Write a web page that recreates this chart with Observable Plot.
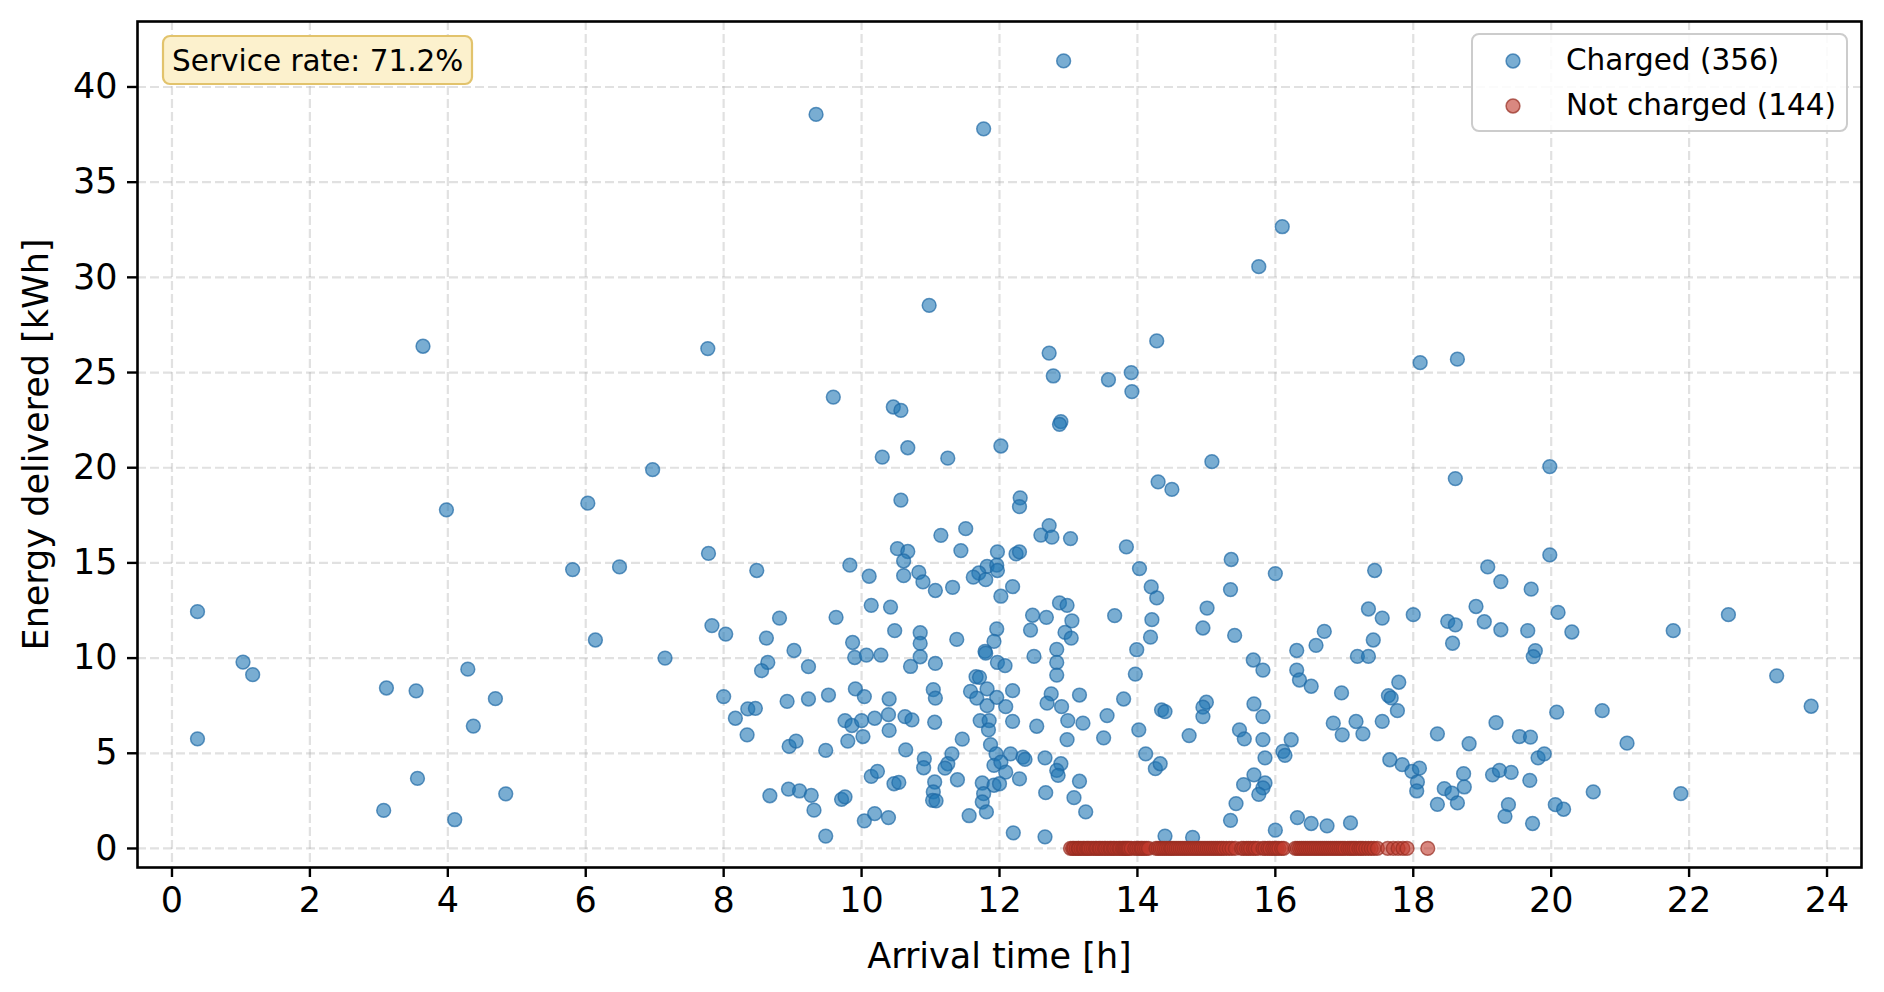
<!DOCTYPE html>
<html>
<head>
<meta charset="utf-8">
<script src="https://cdn.jsdelivr.net/npm/d3@7"></script>
<script src="https://cdn.jsdelivr.net/npm/@observablehq/plot@0.6"></script>
<style>
  html, body { margin: 0; padding: 0; background: #ffffff; overflow: hidden; }
  #chart svg { display: block; }
</style>
</head>
<body>
<div id="chart"></div>
<script>
// ---------------- DATA ----------------
const xTicks = [0, 2, 4, 6, 8, 10, 12, 14, 16, 18, 20, 22, 24];
const yTicks = [0, 5, 10, 15, 20, 25, 30, 35, 40];

const seriesNames = ["Charged (356)", "Not charged (144)"];
const annotationText = "Service rate: 71.2%";
const xLabel = "Arrival time [h]";
const yLabel = "Energy delivered [kWh]";

// Charged sessions: arrival time [h]
const chargedArrival = [
  0.37,0.37,1.03,1.17,3.07,3.11,3.54,3.56,3.64,3.98,4.10,4.29,4.37,4.69,4.84,5.81,6.03,6.14,6.49,6.97,7.15,7.77,7.78,7.83,8.03,
  12.93,9.34,11.77,16.10,15.76,10.98,14.28,12.72,12.78,13.58,13.91,13.92,9.59,10.46,10.57,12.89,12.87,18.10,18.64,
  10.30,10.67,11.25,10.57,11.15,11.51,11.44,10.52,10.67,10.61,9.83,10.11,10.61,10.83,10.89,11.07,11.32,8.48,10.14,10.42,8.81,9.63,8.62,10.48,10.85,10.85,11.38,9.87,9.02,
  8.64,8.55,9.23,9.90,10.07,10.28,10.85,10.71,11.07,8.00, 8.17,8.35,8.46,8.34,8.92,9.23,9.52,8.95,9.05,9.48,
  9.91,10.04,10.40,9.76,9.86,10.00,10.19,10.39,10.40,9.80, 10.02,10.63,10.73,11.04,11.07,11.06,10.64,11.58,11.46,10.91,
  10.90,11.31,11.25,11.21,11.39,11.06,11.04,11.03,11.08,11.56, 10.14,10.23,10.47,10.54,10.04,10.19,10.39,8.67,8.94,9.10,
  9.27,9.31,9.71,9.76,9.48,
  12.02,14.30,14.50,12.30,12.29,12.72,12.60,12.76,13.03,13.84, 11.97,12.24,12.29,14.03,11.82,11.70,11.62,11.80,11.96,11.97,
  12.19,12.02,14.20,14.28,12.87,12.98,12.48,12.68,13.05,13.67, 14.21,12.45,11.96,12.95,13.04,11.92,14.19,13.99,12.83,11.79,
  11.80,12.50,
  15.08,15.36,16.00,17.44,15.35,15.01,14.95,15.41,17.35,17.55,18.00,16.71,16.59,16.31,17.42,17.19,17.35,
  11.97,12.08,12.83,12.83,13.97,11.66,11.71,11.82,11.67,11.96, 11.82,12.19,12.09,12.75,12.69,12.90,13.16,13.80,13.56,12.99,
  13.21,12.54,12.19,11.72,11.85,11.84,12.98,13.51,14.02,14.35, 14.40,14.75,11.87,11.95,12.16,11.92,12.02,12.09,11.75,11.92,
  12.00,12.29,11.77,11.75,11.81,12.34,12.37,12.66,12.89,12.83, 12.85,13.16,12.67,13.08,13.25,12.20,12.66,14.12,14.26,14.33,
  14.40,14.80,
  15.68,15.82,16.31,16.35,16.52,16.96,17.79,17.64,17.68,17.77, 17.55,16.84,16.97,17.17,17.27,15.00,14.95,14.95,15.69,15.82,
  15.48,15.55,15.82,15.85,16.23,16.11,16.14,15.69,15.54,15.85, 15.82,15.76,15.43,15.35,16.00,16.32,16.52,16.75,17.09,17.66,
  17.84,17.98,18.09,18.06,18.05,
  18.61,19.98,19.98,19.08,19.27,19.71,18.91,18.50,18.61,19.03, 19.27,19.66,20.10,20.30,21.77,22.57,18.57,19.77,19.74,
  23.27,23.77,20.08,20.74,21.10,19.20,18.35,18.81,19.54,19.70, 19.81,19.90,18.73,18.74,18.45,18.56,18.64,18.35,19.15,19.25,
  19.42,19.69,19.38,19.33,19.73,20.06,20.18,20.61,21.88
];

// Charged sessions: energy delivered [kWh]
const chargedEnergy = [
  12.44,5.76,9.79,9.13,2.0,8.43,8.28,3.68,26.38,17.79,1.51,9.42,6.43,7.87,2.87,14.65,18.14,10.95,14.79,19.9,10.0,26.26,15.5,11.71,11.26,
  41.37,38.56,37.8,32.66,30.56,28.53,26.66,26.02,24.82,24.62,25.0,24.0,23.71,23.19,23.01,22.42,22.28,25.52,25.7,
  20.56,21.05,20.5,18.3,16.45,16.8,15.65,15.75,15.6,15.1,14.88,14.3,14.33,14.5,14.0,13.55,13.72,14.6,12.77,12.68,12.1,12.14,11.05,11.44,11.33,10.77,10.98,10.82,10.4,
  9.77,9.34,9.55,10.03,10.16,10.16,10.07,9.56,9.72,7.98, 6.84,7.33,7.36,5.97,7.73,7.85,8.06,5.36,5.64,5.15,
  8.38,7.98,7.85,6.72,6.46,6.72,6.84,7.03,6.2,5.64, 5.88,6.93,6.75,8.34,7.9,6.63,5.18,8.25,5.74,4.71,
  4.24,4.97,4.45,4.22,3.61,3.49,2.97,2.53,2.5,1.72, 3.79,4.05,3.4,3.47,1.45,1.83,1.62,2.77,3.12,3.02,
  2.79,2.01,2.58,2.71,0.65,
  21.14,19.26,18.86,18.42,17.96,16.96,16.46,16.35,16.28,15.84, 15.58,15.47,15.58,14.7,14.82,14.47,14.25,14.12,14.88,14.6,
  13.75,13.25,13.74,13.16,12.9,12.77,12.25,12.14,11.96,12.23, 12.02,11.47,11.53,11.35,11.05,10.88,11.1,10.44,10.46,10.35,
  10.26,10.09,
  20.32,15.18,14.44,14.6,13.6,12.63,11.58,11.19,12.58,12.1,12.28,11.4,10.67,10.4,10.95,10.09,10.09,
  9.77,9.6,9.77,9.11,9.16,9.02,8.99,8.38,7.9,7.94, 7.5,8.29,7.45,8.12,7.63,7.45,8.06,7.85,6.98,6.72,
  6.58,6.42,6.68,6.72,6.72,6.23,5.72,5.81,6.23,7.28, 7.19,5.93,5.45,4.97,4.97,4.36,4.54,4.01,3.44,3.32,
  3.4,3.66,2.88,2.44,1.92,4.8,4.68,4.76,4.45,4.1, 3.84,3.53,2.93,2.67,1.92,0.82,0.61,4.97,4.19,4.45,
  0.65,0.58,
  9.9,9.37,9.37,8.85,8.52,8.17,8.73,8.03,7.91,7.24, 6.68,6.58,5.97,6.67,6.02,7.68,7.42,6.93,7.59,6.93,
  6.23,5.76,5.72,4.76,5.71,5.1,4.89,3.87,3.35,3.44, 3.18,2.84,2.36,1.48,0.96,1.62,1.31,1.19,1.34,4.66,
  4.4,4.05,4.22,3.49,3.02,
  19.43,20.06,15.42,14.79,14.02,13.62,12.71,11.93,11.75,11.91, 11.49,11.44,12.4,11.37,11.44,12.28,10.78,10.39,10.08,
  9.07,7.47,7.16,7.24,5.53,6.61,6.02,5.5,5.88,5.85, 4.76,4.97,3.93,3.23,3.14,2.91,2.39,2.32,3.87,4.1,
  4.0,3.58,2.3,1.69,1.31,2.3,2.06,2.97,2.88
];

// Not-charged sessions: arrival time [h]
const notChargedArrival = [
  13.03,13.06,13.08,13.11,13.14,13.15,13.18,13.21,13.23,13.26,13.28,13.30,13.33,13.36,13.39,13.41,13.44,13.46,
  13.49,13.52,13.54,13.57,13.60,13.62,13.65,13.67,13.70,13.73,13.75,13.78,13.80,13.82,13.84,13.86,13.88,13.91,
  13.96,13.99,14.02,14.05,14.07,14.10,14.13,14.16,
  14.27,14.30,14.33,14.36,14.39,14.42,14.45,14.48,14.50,14.53,14.56,14.59,14.62,14.65,14.68,14.71,14.74,14.77,14.80,
  14.83,14.86,14.89,14.92,14.95,14.98,15.01,15.04,15.07,15.10,15.13,15.16,15.19,15.22,15.25,15.29,15.33,15.37,15.42,
  15.51,15.54,15.58,15.61,15.64,15.68,15.71,15.75,
  15.82,15.85,15.89,15.92,15.96,15.99,16.02,16.05,16.09,16.12,
  16.29,16.32,16.35,16.38,16.41,16.44,16.47,16.50,16.53,16.56,16.59,16.62,16.65,16.68,16.71,16.74,16.77,16.80,16.83,
  16.86,16.89,16.92,16.95,16.98,17.01,17.05,17.08,17.11,17.14,17.17,17.21,17.24,17.27,17.31,17.35,17.39,17.43,17.48,
  17.63,17.71,17.78,17.85,17.91,
  18.21
];

// Not-charged sessions: energy delivered [kWh]
const notChargedEnergy = [
  0,0,0,0,0,0,0,0,0,0,0,0,0,0,0,0,0,0,0,0,0,0,0,0,
  0,0,0,0,0,0,0,0,0,0,0,0,0,0,0,0,0,0,0,0,0,0,0,0,
  0,0,0,0,0,0,0,0,0,0,0,0,0,0,0,0,0,0,0,0,0,0,0,0,
  0,0,0,0,0,0,0,0,0,0,0,0,0,0,0,0,0,0,0,0,0,0,0,0,
  0,0,0,0,0,0,0,0,0,0,0,0,0,0,0,0,0,0,0,0,0,0,0,0,
  0,0,0,0,0,0,0,0,0,0,0,0,0,0,0,0,0,0,0,0,0,0,0,0
];

const seriesColors = ["#1f77b4", "#c0392b"];
const seriesEdges = ["#1f6aa5", "#962d22"];

// ---------------- CHART ----------------
const charged = chargedArrival.map((t, i) => ({arrival: t, energy: chargedEnergy[i]}));
const notCharged = notChargedArrival.map((t, i) => ({arrival: t, energy: notChargedEnergy[i]}));

const W = 1884, H = 992;
const mL = 137, mR = 23, mT = 21, mB = 125;
const dotR = 6.9;
const gridStyle = {stroke: "#b0b0b0", strokeOpacity: 0.38, strokeWidth: 2.2, strokeDasharray: "9,4"};

const svg = Plot.plot({
  width: W,
  height: H,
  marginLeft: mL, marginRight: mR, marginTop: mT, marginBottom: mB,
  style: {fontFamily: "'DejaVu Sans', sans-serif", fontSize: "35px", background: "#ffffff", color: "#000000"},
  x: {domain: [-0.5, 24.5], label: null},
  y: {domain: [-1, 43.44], label: null},
  marks: [
    Plot.gridX(xTicks, gridStyle),
    Plot.gridY(yTicks, gridStyle),
    Plot.dot(charged, {x: "arrival", y: "energy", r: dotR, fill: seriesColors[0], fillOpacity: 0.6,
      stroke: seriesEdges[0], strokeOpacity: 0.7, strokeWidth: 1.5}),
    Plot.dot(notCharged, {x: "arrival", y: "energy", r: dotR, fill: seriesColors[1], fillOpacity: 0.6,
      stroke: seriesEdges[1], strokeOpacity: 0.7, strokeWidth: 1.5}),
    Plot.frame({stroke: "#000000", strokeWidth: 2.6}),
    Plot.axisX(xTicks, {tickSize: 10, tickPadding: 10, strokeWidth: 2.4, fontSize: 35, label: null}),
    Plot.axisY(yTicks, {tickSize: 10, tickPadding: 10, strokeWidth: 2.4, fontSize: 35, label: null}),
    Plot.text([xLabel], {text: d => d, frameAnchor: "bottom", dy: 100, lineAnchor: "bottom", textAnchor: "middle", fontSize: 35, fill: "#000000"}),
    Plot.text([yLabel], {text: d => d, frameAnchor: "left", dx: -90, rotate: -90, lineAnchor: "bottom", textAnchor: "middle", fontSize: 35, fill: "#000000"})
  ]
});

// ---------------- ANNOTATION & LEGEND ----------------
const s = d3.select(svg);

const ann = s.append("g").attr("text-anchor", "start");
ann.append("rect")
  .attr("x", 163).attr("y", 36).attr("width", 309).attr("height", 48)
  .attr("rx", 7).attr("ry", 7)
  .attr("fill", "#fcf1cd").attr("stroke", "#e2c36c").attr("stroke-width", 2.2);
ann.append("text")
  .attr("x", 172).attr("y", 71)
  .attr("text-anchor", "start")
  .attr("font-family", "'DejaVu Sans', sans-serif").attr("font-size", 29.5)
  .attr("fill", "#000000")
  .text(annotationText);

const leg = s.append("g").attr("text-anchor", "start");
leg.append("rect")
  .attr("x", 1472).attr("y", 34).attr("width", 375).attr("height", 97)
  .attr("rx", 7).attr("ry", 7)
  .attr("fill", "#ffffff").attr("fill-opacity", 0.85)
  .attr("stroke", "#cccccc").attr("stroke-width", 2);
seriesNames.forEach((name, i) => {
  const cy = 61 + i * 45;
  leg.append("circle")
    .attr("cx", 1513).attr("cy", cy).attr("r", dotR)
    .attr("fill", seriesColors[i]).attr("fill-opacity", 0.6)
    .attr("stroke", seriesEdges[i]).attr("stroke-opacity", 0.7).attr("stroke-width", 1.5);
  leg.append("text")
    .attr("x", 1566).attr("y", cy + 9)
    .attr("text-anchor", "start")
    .attr("font-family", "'DejaVu Sans', sans-serif").attr("font-size", 29.5)
    .attr("fill", "#000000")
    .text(name);
});

document.getElementById("chart").appendChild(svg);
</script>
</body>
</html>
